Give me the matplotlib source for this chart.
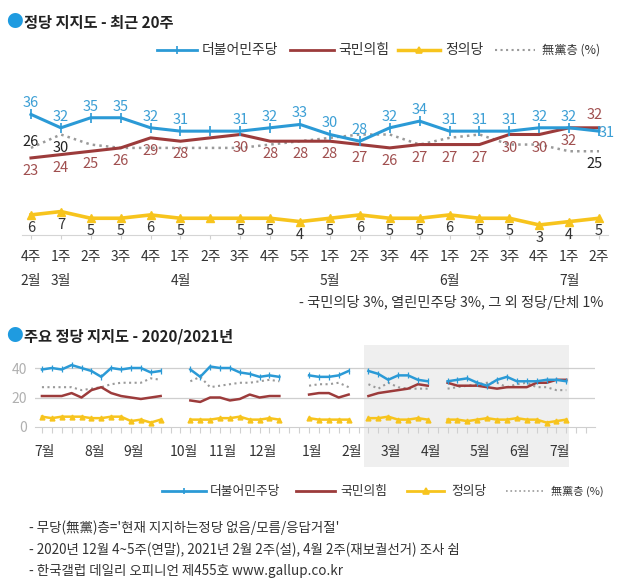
import matplotlib
matplotlib.use("Agg")
import matplotlib.pyplot as plt
import matplotlib.transforms as mtransforms
from matplotlib.lines import Line2D
from matplotlib.patches import Rectangle
import numpy as np

plt.rcParams['font.family'] = ['Noto Sans CJK KR', 'DejaVu Sans']

nan = np.nan

# ---- 정당 지지도 - 최근 20주 (2021년 2월 4주 ~ 7월 2주) ----
weeks20 = ['4주', '1주', '2주', '3주', '4주', '1주', '2주', '3주', '4주', '5주',
           '1주', '2주', '3주', '4주', '1주', '2주', '3주', '4주', '1주', '2주']
month_pos20 = [0, 1, 5, 10, 14, 18]
month_lab20 = ['2월', '3월', '4월', '5월', '6월', '7월']
dem20 = [36, 32, 35, 35, 32, 31, 31, 31, 32, 33, 30, 28, 32, 34, 31, 31, 31, 32, 32, 31]
ppp20 = [23, 24, 25, 26, 29, 28, 29, 30, 28, 28, 28, 27, 26, 27, 27, 27, 30, 30, 32, 32]
jus20 = [6, 7, 5, 5, 6, 5, 5, 5, 5, 4, 5, 6, 5, 5, 6, 5, 5, 3, 4, 5]
ind20 = [26, 30, 27, 26, 26, 26, 26, 26, 27, 28, 29, 30, 30, 27, 29, 30, 27, 27, 25, 25]
ind_labeled = [0, 1, 19]
no_survey = 6   # 4월 2주 (재보궐선거) 조사 쉼

# ---- 주요 정당 지지도 - 2020/2021년 (2020년 7월 1주 ~ 2021년 2월 3주), nan = 조사 쉼 ----
dem_prev = [39, 40, 39, 42, 40, 38, 34, 40, 39, 40, 40, 37, 38, nan, nan,
            39, 34, 41, 40, 40, 37, 36, 34, 35, 34, nan, nan,
            35, 34, 34, 35, 38, nan, 38]
ppp_prev = [21, 21, 21, 23, 20, 25, 27, 23, 21, 20, 19, 20, 21, nan, nan,
            18, 17, 20, 20, 18, 19, 22, 20, 21, 21, nan, nan,
            22, 23, 23, 20, 22, nan, 21]
jus_prev = [7, 6, 7, 7, 7, 6, 6, 7, 7, 4, 5, 3, 5, nan, nan,
            5, 5, 5, 6, 6, 7, 5, 5, 6, 5, nan, nan,
            6, 5, 5, 5, 5, nan, 6]
ind_prev = [27, 27, 27, 27, 25, 26, 27, 29, 30, 30, 30, 33, 32, nan, nan,
            31, 34, 27, 28, 29, 30, 30, 31, 32, 31, nan, nan,
            28, 29, 29, 30, 27, nan, 29]
month_pos = [0, 5, 9, 14, 18, 22, 27, 31, 35, 39, 44, 48, 52]
month_lab = ['7월', '8월', '9월', '10월', '11월', '12월', '1월', '2월', '3월', '4월', '5월', '6월', '7월']

BLUE = '#2b9ad6'
RED = '#9c3b3b'
YELLOW = '#f7c41d'
GREY = '#9a9a9a'
BLUE_T = '#3c9fd5'
RED_T = '#a04f4f'
DARK = '#333333'

W, H = 635, 586
fig = plt.figure(figsize=(W / 100, H / 100), dpi=100)


def fx(px):
    return px / W


def fy(py):
    return 1 - py / H


def legend_row(y, items, fs):
    for x0, x1, xt, color, ls, lw, mk, ms, label in items:
        fig.add_artist(Line2D([fx(x0), fx(x1)], [fy(y), fy(y)], color=color, ls=ls, lw=lw,
                              transform=fig.transFigure))
        if mk:
            fig.add_artist(Line2D([fx((x0 + x1) / 2)], [fy(y)], color=color, marker=mk, ms=ms,
                                  mew=1.2, transform=fig.transFigure))
        size = fs - 1.2 if label.startswith('無黨') else fs
        fig.text(fx(xt), fy(y), label, fontsize=size, color=DARK, va='center')


# ---------------- top chart ----------------
fig.text(fx(6), fy(23), '●', color='#1f9be0', fontsize=12, va='center')
fig.text(fx(24), fy(23), '정당 지지도 - 최근 20주', fontsize=11, fontweight='bold',
         color='#222222', va='center')

legend_row(50, [
    (157, 197, 202, BLUE, '-', 2, '|', 6, '더불어민주당'),
    (290, 334, 338, RED, '-', 2, None, 0, '국민의힘'),
    (398, 440, 445, YELLOW, '-', 2.5, '^', 5, '정의당'),
    (495, 535, 542, GREY, ':', 1.5, None, 0, '無黨층 (%)'),
], 10)

ax = fig.add_axes([fx(22), fy(235), fx(586), 134 / H])
x20 = np.arange(len(weeks20))
ax.plot(x20, ind20, color=GREY, ls=':', lw=1.8, zorder=2)
ax.plot(x20, ppp20, color=RED, lw=2.2, zorder=3)
ax.plot(x20, dem20, color=BLUE, lw=2.2, marker='|', ms=7, mew=1.2, zorder=4)
ax.plot(x20, jus20, color=YELLOW, lw=2.6, marker='^', ms=6, zorder=4)
ax.set_xlim(-0.3, 19.3)
ax.set_ylim(0, 40)
for s in ['left', 'top', 'right']:
    ax.spines[s].set_visible(False)
ax.spines['bottom'].set_color('#d5d5d5')
ax.set_yticks([])
ax.set_xticks(x20)
ax.set_xticklabels([])
ax.tick_params(axis='x', length=3, color='#d0d0d0')

fs = 10.5
for i in x20:
    if i == no_survey:
        continue
    if i == 19:
        ax.annotate(str(dem20[i]), (i, dem20[i]), xytext=(0, -1), textcoords='offset points',
                    ha='left', va='center', color=BLUE_T, fontsize=fs)
        ax.annotate(str(ppp20[i]), (i, ppp20[i]), xytext=(-3, 9), textcoords='offset points',
                    ha='center', va='center', color=RED_T, fontsize=fs)
    else:
        ax.annotate(str(dem20[i]), (i, dem20[i]), xytext=(0, 8), textcoords='offset points',
                    ha='center', va='center', color=BLUE_T, fontsize=fs)
        ax.annotate(str(ppp20[i]), (i, ppp20[i]), xytext=(0, -9.5), textcoords='offset points',
                    ha='center', va='center', color=RED_T, fontsize=fs)
    ax.annotate(str(jus20[i]), (i, jus20[i]), xytext=(0, -9.5), textcoords='offset points',
                ha='center', va='center', color=DARK, fontsize=fs)
for i in ind_labeled:
    dy = 4 if i == 0 else -9.5
    dx = -3 if i == 19 else 0
    ax.annotate(str(ind20[i]), (i, ind20[i]), xytext=(dx, dy), textcoords='offset points',
                ha='center', va='center', color='#222222', fontsize=fs)

for i, w in enumerate(weeks20):
    ax.text(i, -0.164, w, transform=ax.get_xaxis_transform(), ha='center', va='center',
            fontsize=10, color=DARK)
for p, m in zip(month_pos20, month_lab20):
    ax.text(p, -0.343, m, transform=ax.get_xaxis_transform(), ha='center', va='center',
            fontsize=10, color=DARK)

fig.text(fx(603), fy(303), '- 국민의당 3%, 열린민주당 3%, 그 외 정당/단체 1%', ha='right',
         va='center', fontsize=10.3, color=DARK)

# ---------------- bottom chart ----------------
fig.text(fx(6), fy(337), '●', color='#1f9be0', fontsize=12, va='center')
fig.text(fx(24), fy(337), '주요 정당 지지도 - 2020/2021년', fontsize=11, fontweight='bold',
         color='#222222', va='center')

recent = lambda arr: [nan if i == no_survey else v for i, v in enumerate(arr)]
dem_all = np.array(dem_prev + recent(dem20), dtype=float)
ppp_all = np.array(ppp_prev + recent(ppp20), dtype=float)
jus_all = np.array(jus_prev + recent(jus20), dtype=float)
ind_all = np.array(ind_prev + recent(ind20), dtype=float)
xw = np.arange(len(dem_all))

bx = fig.add_axes([fx(35), fy(427), fx(560), 82 / H])
bx.set_xlim(-0.7, 55.9)
bx.set_ylim(0, 55.6)
shade_start = len(ind_prev) - 1.4
shade_end = len(dem_all) - 0.7
tr = mtransforms.blended_transform_factory(bx.transData, bx.transAxes)
bx.add_patch(Rectangle((shade_start, -0.49), shade_end - shade_start, 1.49, transform=tr,
                       facecolor='#efefef', edgecolor='none', clip_on=False, zorder=0))
for g in [20, 40]:
    bx.axhline(g, color='#cfcfcf', lw=0.9, zorder=1)
bx.plot(xw, ind_all, color=GREY, ls=':', lw=1.5, zorder=2)
bx.plot(xw, ppp_all, color=RED, lw=1.8, zorder=3)
bx.plot(xw, dem_all, color=BLUE, lw=1.8, marker='|', ms=4.5, mew=0.9, zorder=4)
bx.plot(xw, jus_all, color=YELLOW, lw=1.8, marker='^', ms=3.5, zorder=4)
for s in ['left', 'top', 'right']:
    bx.spines[s].set_visible(False)
bx.spines['bottom'].set_color('#cfcfcf')
bx.set_yticks([0, 20, 40])
bx.set_yticklabels(['0', '20', '40'], color='#b0b0b0', fontsize=10)
bx.tick_params(axis='y', length=0, pad=6)
bx.set_xticks(np.arange(0, 56))
bx.set_xticklabels([])
bx.tick_params(axis='x', length=4, color='#d0d0d0')
for p, m in zip(month_pos, month_lab):
    bx.text(p + 0.3, -0.3, m, transform=tr, ha='center', va='center', fontsize=10, color=DARK)

legend_row(491, [
    (162, 206, 210, BLUE, '-', 2, '|', 4, '더불어민주당'),
    (296, 335, 340, RED, '-', 2, None, 0, '국민의힘'),
    (407, 444, 451, YELLOW, '-', 2, '^', 4, '정의당'),
    (506, 543, 551, GREY, ':', 1.2, None, 0, '無黨층 (%)'),
], 9.2)

notes = ["- 무당(無黨)층='현재 지지하는정당 없음/모름/응답거절'",
         '- 2020년 12월 4~5주(연말), 2021년 2월 2주(설), 4월 2주(재보궐선거) 조사 쉼',
         '- 한국갤럽 데일리 오피니언 제455호 www.gallup.co.kr']
for k, t in enumerate(notes):
    fig.text(fx(29), fy(528 + 21.5 * k), t, fontsize=9.7, color=DARK, va='center')

fig.savefig('out.png', dpi=100, facecolor='white')
